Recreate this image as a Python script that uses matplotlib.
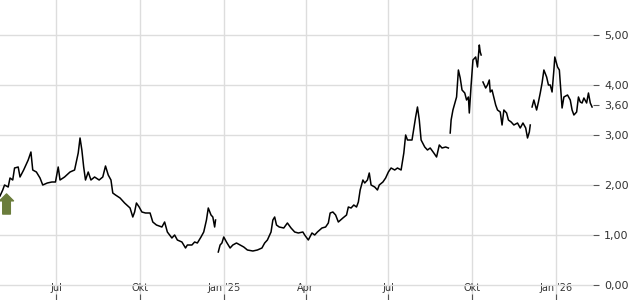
import numpy as np
import pandas as pd
import matplotlib
matplotlib.use("Agg")
import matplotlib.pyplot as plt
import matplotlib.dates as mdates
from matplotlib.transforms import offset_copy

# price history (None = gap in the quote series)
dates = [
    "2024-04-30", "2024-05-03", "2024-05-05", "2024-05-09", "2024-05-11", "2024-05-14",
    "2024-05-16", "2024-05-20", "2024-05-22", "2024-05-26", "2024-05-31", "2024-06-03",
    "2024-06-05", "2024-06-09", "2024-06-13", "2024-06-16", "2024-06-21", "2024-06-26",
    "2024-06-30", "2024-07-03", "2024-07-05", "2024-07-10", "2024-07-16", "2024-07-21",
    "2024-07-25", "2024-07-27", "2024-07-29", "2024-07-31", "2024-08-02", "2024-08-05",
    "2024-08-08", "2024-08-12", "2024-08-17", "2024-08-21", "2024-08-24", "2024-08-27",
    "2024-08-30", "2024-09-01", "2024-09-04", "2024-09-09", "2024-09-14", "2024-09-20",
    "2024-09-23", "2024-09-25", "2024-09-27", "2024-09-30", "2024-10-03", "2024-10-07",
    "2024-10-12", "2024-10-15", "2024-10-19", "2024-10-25", "2024-10-28", "2024-10-31",
    "2024-11-05", "2024-11-08", "2024-11-11", "2024-11-16", "2024-11-20", "2024-11-22",
    "2024-11-27", "2024-11-30", "2024-12-03", "2024-12-07", "2024-12-10", "2024-12-13",
    "2024-12-15", "2024-12-18", "2024-12-20", "2024-12-22", "2024-12-23", "2024-12-24",
    "2024-12-26", "2024-12-28", "2024-12-30", "2025-01-01", "2025-01-04", "2025-01-08",
    "2025-01-11", "2025-01-15", "2025-01-19", "2025-01-23", "2025-01-27", "2025-02-02",
    "2025-02-07", "2025-02-12", "2025-02-15", "2025-02-18", "2025-02-22", "2025-02-24",
    "2025-02-26", "2025-02-28", "2025-03-03", "2025-03-08", "2025-03-12", "2025-03-16",
    "2025-03-20", "2025-03-24", "2025-03-29", "2025-03-31", "2025-04-04", "2025-04-08",
    "2025-04-11", "2025-04-14", "2025-04-19", "2025-04-23", "2025-04-26", "2025-04-28",
    "2025-05-01", "2025-05-04", "2025-05-07", "2025-05-12", "2025-05-16", "2025-05-18",
    "2025-05-21", "2025-05-24", "2025-05-27", "2025-05-29", "2025-05-31", "2025-06-03",
    "2025-06-05", "2025-06-08", "2025-06-10", "2025-06-12", "2025-06-16", "2025-06-19",
    "2025-06-21", "2025-06-25", "2025-06-28", "2025-07-01", "2025-07-04", "2025-07-08",
    "2025-07-11", "2025-07-15", "2025-07-18", "2025-07-20", "2025-07-22", "2025-07-24",
    "2025-07-27", "2025-07-31", "2025-08-02", "2025-08-04", "2025-08-06", "2025-08-10",
    "2025-08-13", "2025-08-16", "2025-08-20", "2025-08-23", "2025-08-26", "2025-08-29",
    "2025-09-02", "2025-09-05", "2025-09-06", "2025-09-07", "2025-09-08", "2025-09-10",
    "2025-09-14", "2025-09-16", "2025-09-18", "2025-09-20", "2025-09-23", "2025-09-25",
    "2025-09-27", "2025-09-28", "2025-09-30", "2025-10-02", "2025-10-05", "2025-10-07",
    "2025-10-09", "2025-10-10", "2025-10-11", "2025-10-12", "2025-10-13", "2025-10-16",
    "2025-10-18", "2025-10-20", "2025-10-21", "2025-10-23", "2025-10-27", "2025-10-29",
    "2025-11-01", "2025-11-03", "2025-11-05", "2025-11-08", "2025-11-10", "2025-11-13",
    "2025-11-16", "2025-11-20", "2025-11-23", "2025-11-26", "2025-11-29", "2025-12-01",
    "2025-12-03", "2025-12-04", "2025-12-05", "2025-12-06", "2025-12-08", "2025-12-11",
    "2025-12-13", "2025-12-15", "2025-12-17", "2025-12-19", "2025-12-22", "2025-12-24",
    "2025-12-26", "2025-12-28", "2025-12-30", "2025-12-31", "2026-01-03", "2026-01-05",
    "2026-01-07", "2026-01-08", "2026-01-10", "2026-01-14", "2026-01-17", "2026-01-19",
    "2026-01-21", "2026-01-24", "2026-01-26", "2026-01-28", "2026-01-30", "2026-02-01",
    "2026-02-04", "2026-02-06", "2026-02-08", "2026-02-10",
]
prices = [
    1.78, 1.90, 2.00, 1.96, 2.14, 2.10,
    2.34, 2.36, 2.16, 2.30, 2.50, 2.66,
    2.30, 2.26, 2.14, 2.00, 2.04, 2.06,
    2.06, 2.36, 2.10, 2.16, 2.26, 2.30,
    2.64, 2.94, 2.70, 2.36, 2.10, 2.26,
    2.10, 2.16, 2.10, 2.16, 2.38, 2.20,
    2.10, 1.84, 1.80, 1.74, 1.64, 1.54,
    1.36, 1.46, 1.64, 1.56, 1.46, 1.44,
    1.44, 1.26, 1.20, 1.16, 1.26, 1.06,
    0.94, 1.00, 0.90, 0.86, 0.74, 0.80,
    0.80, 0.86, 0.84, 0.96, 1.06, 1.30,
    1.54, 1.40, 1.36, 1.16, 1.30, None,
    0.66, 0.80, 0.84, 0.96, 0.86, 0.74,
    0.80, 0.84, 0.80, 0.76, 0.70, 0.68,
    0.70, 0.74, 0.84, 0.90, 1.06, 1.30,
    1.36, 1.20, 1.16, 1.14, 1.24, 1.14,
    1.06, 1.04, 1.06, 1.00, 0.90, 1.04,
    1.00, 1.06, 1.14, 1.16, 1.24, 1.44,
    1.46, 1.40, 1.26, 1.34, 1.40, 1.56,
    1.54, 1.60, 1.56, 1.66, 1.90, 2.10,
    2.04, 2.10, 2.24, 2.00, 1.96, 1.90,
    2.00, 2.06, 2.14, 2.26, 2.34, 2.30,
    2.34, 2.30, 2.64, 3.00, 2.90, 2.90,
    2.90, 3.36, 3.56, 3.30, 2.90, 2.76,
    2.70, 2.74, 2.64, 2.56, 2.80, 2.74,
    2.76, 2.74, None, 3.04, 3.30, 3.50,
    3.76, 4.30, 4.14, 3.90, 3.84, 3.70,
    3.76, 3.44, 4.00, 4.50, 4.56, 4.36,
    4.80, 4.66, 4.60, None, 4.06, 3.94,
    4.00, 4.10, 3.86, 3.90, 3.60, 3.50,
    3.46, 3.20, 3.50, 3.44, 3.30, 3.26,
    3.20, 3.24, 3.14, 3.24, 3.14, 2.94,
    3.06, 3.20, None, 3.56, 3.70, 3.50,
    3.66, 3.84, 4.04, 4.30, 4.16, 4.00,
    4.00, 3.86, 4.30, 4.56, 4.36, 4.30,
    3.80, 3.54, 3.76, 3.80, 3.70, 3.50,
    3.40, 3.46, 3.76, 3.66, 3.64, 3.74,
    3.64, 3.84, 3.64, 3.56,
]
last_price = 3.60
y_ticks = [0, 1, 2, 3, 4, 5]
x_tick_labels = ["Jul", "Okt", "Jan '25", "Apr", "Jul", "Okt", "Jan '26"]

df = pd.DataFrame({"date": pd.to_datetime(dates),
                   "price": pd.Series(prices, dtype="float")})

fig = plt.figure(figsize=(6.4, 3.0), dpi=100)
ax = fig.add_axes([0.0, 0.0, 593 / 640, 1.0])

ax.plot(df["date"], df["price"], color="black", lw=1.1, zorder=3)

# buy marker just right of the first quote
tip = offset_copy(ax.transData, fig=fig, x=4.7, y=1.5, units="points")
ax.annotate("", xy=(mdates.date2num(df["date"].iloc[0]), df["price"].iloc[0]), xycoords=tip,
            xytext=(0, -14.5), textcoords="offset points",
            arrowprops=dict(arrowstyle="simple,head_length=0.5,head_width=1.0,tail_width=0.55",
                            color="#6b7d3c", shrinkA=0, shrinkB=0), zorder=4)

ax.set_xlim(pd.Timestamp("2024-04-30"), pd.Timestamp("2026-02-11"))
ax.set_ylim(-0.3, 5.7)

ax.xaxis.set_major_locator(mdates.MonthLocator(bymonth=[1, 4, 7, 10]))
ax.set_xticks(ax.get_xticks())
ax.set_xticklabels(x_tick_labels)
ax.tick_params(axis="x", direction="in", length=4, width=0.8, color="#555555",
               labelsize=7, labelcolor="#333333", pad=-12.5)

ax.yaxis.tick_right()
ax.set_yticks(y_ticks)
ax.set_yticklabels([f"{v:.2f}".replace(".", ",") for v in y_ticks])
ax.set_yticks([last_price], minor=True)
ax.set_yticklabels([f"{last_price:.2f}".replace(".", ",")], minor=True)
ax.tick_params(axis="y", which="both", direction="out", length=4, width=0.8,
               color="#555555", labelsize=8, labelcolor="#333333", pad=4)

ax.grid(True, which="major", color="#dddddd", lw=1.0)
ax.set_axisbelow(True)
for s in ax.spines.values():
    s.set_visible(False)

fig.savefig("out.png", dpi=100)
